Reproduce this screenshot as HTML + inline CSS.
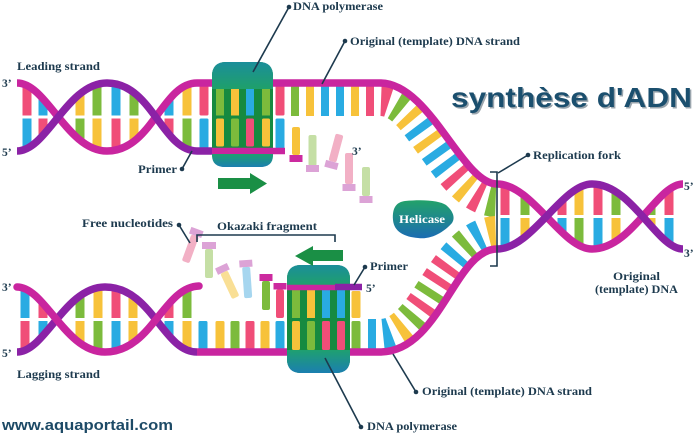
<!DOCTYPE html>
<html><head><meta charset="utf-8">
<style>
html,body{margin:0;padding:0;background:#fff;}
svg{display:block;}
.lb{font-family:"Liberation Serif",serif;font-weight:bold;font-size:11.5px;fill:#1d3a4e;}
.ld{stroke:#1d3a4e;stroke-width:1.6;fill:none;}
</style></head><body>
<svg width="696" height="435" viewBox="0 0 696 435" xmlns="http://www.w3.org/2000/svg">
<defs>
 <clipPath id="h1"><path d="M17,83 C47,83 67,151 107,151 C152,151 162,83 197,83 L197,151 C162,151 152,83 107,83 C67,83 47,151 17,151 Z"/></clipPath>
 <clipPath id="h2"><path d="M497,184 C532,184 562,249 592,249 C632,249 657,184 683,184 L683,249 C657,249 632,184 592,184 C562,184 532,249 497,249 Z"/></clipPath>
 <clipPath id="h3"><path d="M17,287 C45,287 65,352 105,352 C152,352 163,287 197,287 L197,352 C163,352 152,287 105,287 C65,287 45,352 17,352 Z"/></clipPath>
 <linearGradient id="gT" x1="0" y1="0" x2="0" y2="1"><stop offset="0" stop-color="#1b8e9a"/><stop offset="1" stop-color="#1fa06a"/></linearGradient>
 <linearGradient id="gB" x1="0" y1="0" x2="0" y2="1"><stop offset="0" stop-color="#1fa070"/><stop offset="1" stop-color="#1b7fb0"/></linearGradient>
 <linearGradient id="gH" x1="0" y1="0" x2="0" y2="1"><stop offset="0" stop-color="#22a26a"/><stop offset="1" stop-color="#1b6cb2"/></linearGradient>
</defs>

<!-- top-left helix bars -->
<g clip-path="url(#h1)">
 <rect x="22.5" y="80" width="9" height="35.5" fill="#f04e78"/><rect x="22.5" y="118.5" width="9" height="36" fill="#29abe2"/>
 <rect x="38.5" y="80" width="9" height="35.5" fill="#29abe2"/><rect x="38.5" y="118.5" width="9" height="36" fill="#f04e78"/>
 <rect x="75.5" y="80" width="9" height="35.5" fill="#f7c23a"/><rect x="75.5" y="118.5" width="9" height="36" fill="#7cbb3c"/>
 <rect x="92.5" y="80" width="9" height="35.5" fill="#7cbb3c"/><rect x="92.5" y="118.5" width="9" height="36" fill="#f7c23a"/>
 <rect x="111.5" y="80" width="9" height="35.5" fill="#29abe2"/><rect x="111.5" y="118.5" width="9" height="36" fill="#f04e78"/>
 <rect x="129.5" y="80" width="9" height="35.5" fill="#7cbb3c"/><rect x="129.5" y="118.5" width="9" height="36" fill="#f7c23a"/>
 <rect x="164.5" y="80" width="9" height="35.5" fill="#29abe2"/><rect x="164.5" y="118.5" width="9" height="36" fill="#f04e78"/>
 <rect x="182.5" y="80" width="9" height="35.5" fill="#f7c23a"/><rect x="182.5" y="118.5" width="9" height="36" fill="#7cbb3c"/>
</g>
<rect x="199.5" y="85" width="9" height="30.5" rx="1.5" fill="#f04e78"/><rect x="199.5" y="118.5" width="9" height="30" rx="1.5" fill="#29abe2"/>
<rect x="275.5" y="85" width="9" height="30.5" rx="1.5" fill="#f04e78"/><rect x="275.5" y="118.5" width="9" height="30" rx="1.5" fill="#29abe2"/>

<!-- right helix bars -->
<g clip-path="url(#h2)">
 <rect x="500.5" y="180" width="9" height="35" fill="#f04e78"/><rect x="500.5" y="218" width="9" height="35" fill="#29abe2"/>
 <rect x="520.5" y="180" width="9" height="35" fill="#7cbb3c"/><rect x="520.5" y="218" width="9" height="35" fill="#f7c23a"/>
 <rect x="557.5" y="180" width="9" height="35" fill="#f04e78"/><rect x="557.5" y="218" width="9" height="35" fill="#29abe2"/>
 <rect x="574.5" y="180" width="9" height="35" fill="#f7c23a"/><rect x="574.5" y="218" width="9" height="35" fill="#7cbb3c"/>
 <rect x="593.5" y="180" width="9" height="35" fill="#f04e78"/><rect x="593.5" y="218" width="9" height="35" fill="#29abe2"/>
 <rect x="611.5" y="180" width="9" height="35" fill="#7cbb3c"/><rect x="611.5" y="218" width="9" height="35" fill="#f7c23a"/>
 <rect x="646.5" y="180" width="9" height="35" fill="#7cbb3c"/><rect x="646.5" y="218" width="9" height="35" fill="#f7c23a"/>
 <rect x="664.5" y="180" width="9" height="35" fill="#f04e78"/><rect x="664.5" y="218" width="9" height="35" fill="#29abe2"/>
</g>

<!-- lagging helix bars -->
<g clip-path="url(#h3)">
 <rect x="20.5" y="283" width="9" height="35" fill="#29abe2"/><rect x="20.5" y="321" width="9" height="35" fill="#f04e78"/>
 <rect x="38.5" y="283" width="9" height="35" fill="#f04e78"/><rect x="38.5" y="321" width="9" height="35" fill="#29abe2"/>
 <rect x="75.5" y="283" width="9" height="35" fill="#7cbb3c"/><rect x="75.5" y="321" width="9" height="35" fill="#f7c23a"/>
 <rect x="93.5" y="283" width="9" height="35" fill="#f7c23a"/><rect x="93.5" y="321" width="9" height="35" fill="#7cbb3c"/>
 <rect x="111.5" y="283" width="9" height="35" fill="#f04e78"/><rect x="111.5" y="321" width="9" height="35" fill="#29abe2"/>
 <rect x="128.5" y="283" width="9" height="35" fill="#f7c23a"/><rect x="128.5" y="321" width="9" height="35" fill="#f7c23a"/>
 <rect x="164.5" y="283" width="9" height="35" fill="#f04e78"/><rect x="164.5" y="321" width="9" height="35" fill="#29abe2"/>
 <rect x="182.5" y="283" width="9" height="35" fill="#7cbb3c"/><rect x="182.5" y="321" width="9" height="35" fill="#f7c23a"/>
</g>
<!-- lagging bottom-only bars -->
<rect x="198.5" y="321" width="9" height="29" rx="1.5" fill="#29abe2"/>
<rect x="215.5" y="321" width="9" height="29" rx="1.5" fill="#f7c23a"/>
<rect x="230.5" y="321" width="9" height="29" rx="1.5" fill="#7cbb3c"/>
<rect x="245.5" y="321" width="9" height="29" rx="1.5" fill="#f04e78"/>
<rect x="260.5" y="321" width="9" height="29" rx="1.5" fill="#f7c23a"/>
<rect x="275.5" y="321" width="9" height="29" rx="1.5" fill="#29abe2"/>
<rect x="351.5" y="291" width="9" height="27" rx="1.5" fill="#f7c23a"/>
<rect x="351.5" y="321" width="9" height="29" rx="1.5" fill="#7cbb3c"/>

<!-- fork bars (top) on offset path -->
<g fill="none" stroke-width="30">
 <path d="M285,101 L380,101 C401.9,101 416.6,126.6 429.6,144.2 C447.2,168 467.4,202 497,202 L502,202" stroke="#7cbb3c" stroke-dasharray="0 6 8 97 8 127 8 1000"/>
 <path d="M285,101 L380,101 C401.9,101 416.6,126.6 429.6,144.2 C447.2,168 467.4,202 497,202 L502,202" stroke="#f7c23a" stroke-dasharray="0 21 8 37 8 52 8 22 8 52 8 1000"/>
 <path d="M285,101 L380,101 C401.9,101 416.6,126.6 429.6,144.2 C447.2,168 467.4,202 497,202 L502,202" stroke="#29abe2" stroke-dasharray="0 36 8 7 8 82 8 22 8 7 8 1000"/>
 <path d="M285,101 L380,101 C401.9,101 416.6,126.6 429.6,144.2 C447.2,168 467.4,202 497,202 L502,202" stroke="#f04e78" stroke-dasharray="0 81 8 7 8 97 8 22 8 1000"/>
</g>
<!-- fork bars (bottom) on offset path -->
<g fill="none" stroke-width="30">
 <path d="M362,334 L380,334 C402,334 418.2,309.3 430.1,290.8 C446.2,265.6 467.1,231 497,231 L502,231" stroke="#29abe2" stroke-dasharray="0 6 8 7 8 97 8 22 8 1000"/>
 <path d="M362,334 L380,334 C402,334 418.2,309.3 430.1,290.8 C446.2,265.6 467.1,231 497,231 L502,231" stroke="#f7c23a" stroke-dasharray="0 36 8 127 8 1000"/>
 <path d="M362,334 L380,334 C402,334 418.2,309.3 430.1,290.8 C446.2,265.6 467.1,231 497,231 L502,231" stroke="#7cbb3c" stroke-dasharray="0 51 8 22 8 52 8 1000"/>
 <path d="M362,334 L380,334 C402,334 418.2,309.3 430.1,290.8 C446.2,265.6 467.1,231 497,231 L502,231" stroke="#f04e78" stroke-dasharray="0 66 8 22 8 7 8 1000"/>
</g>

<!-- free nucleotides top -->
<rect x="292" y="127" width="8" height="28" rx="2" fill="#f7c23a"/><rect x="289.5" y="155" width="13" height="7" fill="#cc2a9f"/>
<rect x="308.5" y="135" width="8" height="31" rx="2" fill="#c5dfa5"/><rect x="306" y="165" width="13" height="7" fill="#dca3d6"/>
<g transform="translate(336,148) rotate(15)"><rect x="-4" y="-14" width="8" height="28" rx="2" fill="#f2b0c5"/><rect x="-6.5" y="14" width="13" height="7" fill="#dca3d6"/></g>
<rect x="345" y="153" width="8" height="31" rx="2" fill="#f2b0c5"/><rect x="342.5" y="184" width="13" height="7" fill="#dca3d6"/>
<rect x="362" y="167" width="8" height="29" rx="2" fill="#c5dfa5"/><rect x="359.5" y="196" width="13" height="7" fill="#dca3d6"/>

<!-- free nucleotides bottom -->
<g transform="translate(191,247) rotate(20)"><rect x="-6.5" y="-19" width="13" height="7" fill="#dca3d6"/><rect x="-4" y="-12" width="8" height="28" rx="2" fill="#f2b0c5"/></g>
<rect x="202" y="242" width="14" height="7" fill="#dca3d6"/><rect x="205" y="249" width="8" height="29" rx="2" fill="#c5dfa5"/>
<g transform="translate(229,283) rotate(-25)"><rect x="-6.5" y="-19" width="13" height="7" fill="#dca3d6"/><rect x="-4" y="-12" width="8" height="28" rx="2" fill="#f9df95"/></g>
<g transform="translate(247,280) rotate(-4)"><rect x="-6.5" y="-20" width="13" height="7" fill="#dca3d6"/><rect x="-4" y="-13" width="8" height="31" rx="2" fill="#a6d6ef"/></g>
<rect x="259.5" y="274" width="13" height="7" fill="#cc2a9f"/><rect x="262" y="281" width="8" height="29" rx="2" fill="#7cbb3c"/>
<rect x="273.5" y="283" width="13" height="6.5" fill="#cc2a9f"/><rect x="276" y="289.5" width="8" height="28.5" rx="2" fill="#f04e78"/>

<!-- strands -->
<g fill="none" stroke-width="7.5">
 <path d="M17,83 C47,83 67,151 107,151 C152,151 162,83 197,83 L380,83 C430,83 462,184 497,184 C532,184 562,249 592,249 C632,249 657,184 683,184" stroke="#c9259f"/>
 <path d="M17,151 C47,151 67,83 107,83 C152,83 162,151 197,151 L212,151" stroke="#8b22a6"/>
 <path d="M197,352 L380,352 C440,352 455,249 497,249" stroke="#c9259f"/>
 <path d="M497,249 C532,249 562,184 592,184 C632,184 657,249 683,249" stroke="#8b22a6"/>
 <path d="M17,352 C45,352 65,287 105,287 C152,287 163,352 197,352" stroke="#8b22a6"/>
 <path d="M17,287 C45,287 65,352 105,352 C152,352 163,287 199,286" stroke="#c9259f" stroke-linecap="round"/>
</g>

<!-- top polymerase -->
<rect x="212" y="62" width="61" height="105" rx="13" fill="#168a40"/>
<rect x="216" y="88" width="8" height="27.5" fill="#7cbb3c"/><rect x="216" y="118.5" width="8" height="28" rx="1.5" fill="#f7c23a"/>
<rect x="231" y="88" width="8" height="27.5" fill="#f7c23a"/><rect x="231" y="118.5" width="8" height="28" rx="1.5" fill="#7cbb3c"/>
<rect x="246" y="88" width="8" height="27.5" fill="#29abe2"/><rect x="246" y="118.5" width="8" height="28" rx="1.5" fill="#f04e78"/>
<rect x="262" y="88" width="8" height="27.5" fill="#7cbb3c"/><rect x="262" y="118.5" width="8" height="28" rx="1.5" fill="#f7c23a"/>
<path d="M212,76 Q212,62 226,62 L259,62 Q273,62 273,76 L273,89 L212,89 Z" fill="url(#gT)"/>
<path d="M212,151 L285,151" stroke="#c9259f" stroke-width="6.5"/>
<path d="M212,154 L273,154 L273,155 Q273,167 260,167 L225,167 Q212,167 212,155 Z" fill="url(#gB)"/>

<!-- lower polymerase -->
<rect x="287" y="265" width="63" height="108" rx="13" fill="#168a40"/>
<rect x="292" y="290" width="8" height="28" fill="#7cbb3c"/><rect x="292" y="321" width="8" height="29" rx="1.5" fill="#f7c23a"/>
<rect x="307" y="290" width="8" height="28" fill="#f7c23a"/><rect x="307" y="321" width="8" height="29" rx="1.5" fill="#7cbb3c"/>
<rect x="322" y="290" width="8" height="28" fill="#29abe2"/><rect x="322" y="321" width="8" height="29" rx="1.5" fill="#f04e78"/>
<rect x="337" y="290" width="8" height="28" fill="#29abe2"/><rect x="337" y="321" width="8" height="29" rx="1.5" fill="#f04e78"/>
<path d="M287,279 Q287,265 301,265 L336,265 Q350,265 350,279 L350,286 L287,286 Z" fill="url(#gT)"/>
<path d="M287,287.5 L336,287.5" stroke="#c9259f" stroke-width="5.5"/>
<path d="M335,287 L362,287" stroke="#8b22a6" stroke-width="6.5"/>
<path d="M287,350 L350,350 L350,359 Q350,373 336,373 L301,373 Q287,373 287,359 Z" fill="url(#gB)"/>

<!-- arrows -->
<path d="M218,178 L250,178 L250,173 L267,183.5 L250,194 L250,189 L218,189 Z" fill="#1a8f45"/>
<path d="M343,250 L313,250 L313,246 L295,256 L313,266 L313,261 L343,261 Z" fill="#1a8f45"/>

<!-- helicase -->
<path d="M405,201 C425,199 440,201 446,205 C452,210 456,217 452,223 C445,231 432,240 418,238 C405,237 394,232 393,220 C392,207 397,202 405,201 Z" fill="url(#gH)"/>
<text x="399" y="223" font-family="Liberation Serif,serif" font-weight="bold" font-size="11.5" fill="#fff" textLength="46" lengthAdjust="spacingAndGlyphs">Helicase</text>

<!-- brackets and leaders -->
<path class="ld" d="M490,172 L497,172 L497,266 L490,266"/>
<path class="ld" d="M498,173 L528,155"/><circle cx="528" cy="155" r="2.3" fill="#1d3a4e"/>
<path class="ld" d="M197,242 L197,235 L335,235 L335,242"/>
<path class="ld" d="M289,7 L253,72"/><circle cx="289" cy="7" r="2.3" fill="#1d3a4e"/>
<path class="ld" d="M345,41 L322,84"/><circle cx="345" cy="41" r="2.3" fill="#1d3a4e"/>
<path class="ld" d="M182,169 L192,151"/><circle cx="182" cy="169" r="2.3" fill="#1d3a4e"/>
<path class="ld" d="M179,225 L190,243"/><circle cx="179" cy="225" r="2.3" fill="#1d3a4e"/>
<path class="ld" d="M365,267 L354,285"/><circle cx="365" cy="267" r="2.3" fill="#1d3a4e"/>
<path class="ld" d="M393,354 L416,392"/><circle cx="416" cy="392" r="2.3" fill="#1d3a4e"/>
<path class="ld" d="M325,358 L361,427"/><circle cx="361" cy="427" r="2.3" fill="#1d3a4e"/>

<!-- labels -->
<text class="lb" x="293" y="10" textLength="90" lengthAdjust="spacingAndGlyphs">DNA polymerase</text>
<text class="lb" x="350" y="45" textLength="170" lengthAdjust="spacingAndGlyphs">Original (template) DNA strand</text>
<text class="lb" x="17" y="70" textLength="83" lengthAdjust="spacingAndGlyphs">Leading strand</text>
<text class="lb" x="2" y="87" font-size="12">3’</text>
<text class="lb" x="2" y="156" font-size="12">5’</text>
<text class="lb" x="138" y="173" textLength="39" lengthAdjust="spacingAndGlyphs">Primer</text>
<text class="lb" x="352" y="155">3’</text>
<text class="lb" x="533" y="159" textLength="88" lengthAdjust="spacingAndGlyphs">Replication fork</text>
<text class="lb" x="684" y="190">5’</text>
<text class="lb" x="684" y="257">3’</text>
<text class="lb" x="613" y="280" textLength="47" lengthAdjust="spacingAndGlyphs">Original</text>
<text class="lb" x="595" y="293" textLength="83" lengthAdjust="spacingAndGlyphs">(template) DNA</text>
<text class="lb" x="82" y="227" textLength="91" lengthAdjust="spacingAndGlyphs">Free nucleotides</text>
<text class="lb" x="217" y="230" textLength="100" lengthAdjust="spacingAndGlyphs">Okazaki fragment</text>
<text class="lb" x="370" y="270" textLength="38" lengthAdjust="spacingAndGlyphs">Primer</text>
<text class="lb" x="366" y="292">5’</text>
<text class="lb" x="2" y="291" font-size="12">3’</text>
<text class="lb" x="2" y="357" font-size="12">5’</text>
<text class="lb" x="17" y="378" textLength="83" lengthAdjust="spacingAndGlyphs">Lagging strand</text>
<text class="lb" x="422" y="395" textLength="170" lengthAdjust="spacingAndGlyphs">Original (template) DNA strand</text>
<text class="lb" x="367" y="430" textLength="90" lengthAdjust="spacingAndGlyphs">DNA polymerase</text>

<!-- title -->
<text x="452.5" y="108.5" font-family="Liberation Sans,sans-serif" font-weight="bold" font-size="28" fill="#9aa5ad" textLength="241" lengthAdjust="spacingAndGlyphs">synthèse d'ADN</text>
<text x="451" y="107" font-family="Liberation Sans,sans-serif" font-weight="bold" font-size="28" fill="#1b4f6e" textLength="241" lengthAdjust="spacingAndGlyphs">synthèse d'ADN</text>

<!-- watermark -->
<text x="2" y="430" font-family="Liberation Sans,sans-serif" font-weight="bold" font-size="15" fill="#1d4a66" textLength="171" lengthAdjust="spacingAndGlyphs">www.aquaportail.com</text>
</svg>
</body></html>
